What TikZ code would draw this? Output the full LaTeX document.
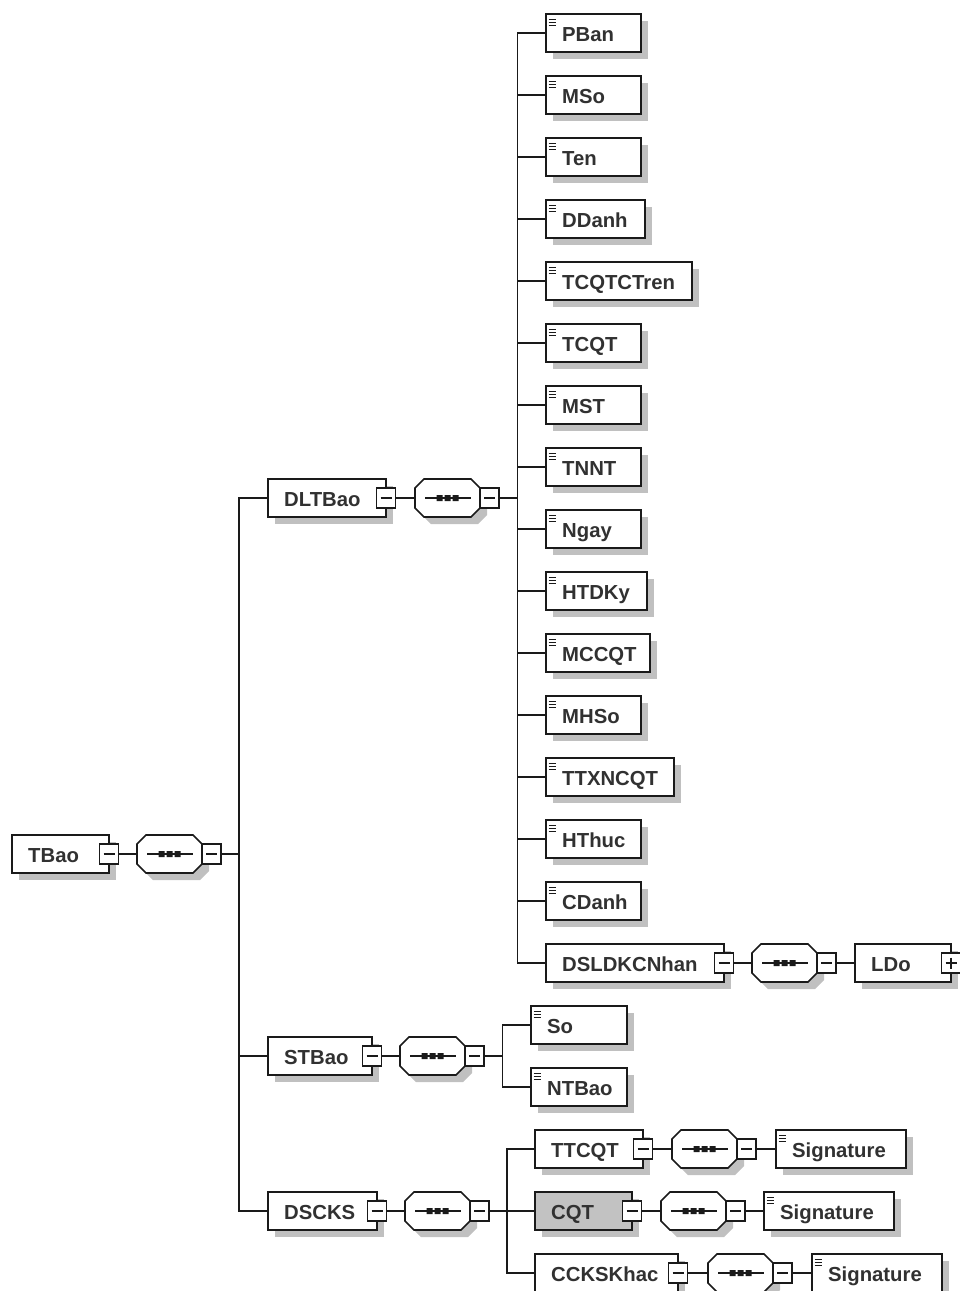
\documentclass[tikz,border=0pt]{standalone}
\usepackage{fontspec}
\newfontfamily\lblfont{Liberation Sans}
\definecolor{shadowc}{HTML}{C0C0C0}
\definecolor{linec}{HTML}{1A1A1A}
\definecolor{cqtfill}{HTML}{C2C2C2}
\tikzset{
 ebox/.style={draw=linec, line width=1.6pt, minimum height=38pt, inner sep=0pt, outer sep=0pt},
 outline/.style={draw=linec, line width=1.6pt},
 lbl/.style={font=\lblfont\bfseries\fontsize{20.3}{24}\selectfont, inner sep=0pt, text=linec!90},
 mbox/.style={draw=linec, fill=white, line width=1.4pt, minimum width=19pt, minimum height=20pt, inner sep=0pt, outer sep=0pt},
 conn/.style={draw=linec, line width=1.4pt},
 sgn/.style={draw=linec, line width=1.2pt},
 icon/.style={draw=linec, line width=1pt},
 seqbb/.style={minimum width=65pt, minimum height=38pt, inner sep=0pt, outer sep=0pt},
}
% box: [fill] name x y width text
\newcommand\xbox[6][white]{%
 \begin{scope}[shift={(#3,#4)}]
  \fill[shadowc] (7,-12) rectangle (#5+7,26);
  \node[ebox, fill=#1, minimum width=#5pt, anchor=west] (#2) at (0,0) {};
  \node[lbl, anchor=base west] (#2t) at (16,8) {#6};
 \end{scope}}
% minus box: name x y
\newcommand\mbx[3]{%
 \node[mbox] (#1) at (#2,#3) {};
 \draw[sgn] (#2-5.5,#3) -- (#2+5.5,#3);}
\newcommand\pbx[3]{%
 \mbx{#1}{#2}{#3}%
 \draw[sgn] (#2,#3-5.5) -- (#2,#3+5.5);}
% leaf: name x y width text
\newcommand\leaf[5]{%
 \xbox{#1}{#2}{#3}{#4}{#5}%
 \draw[icon] (#2+2.5,#3-14) -- ++(7,0) (#2+2.5,#3-11) -- ++(7,0) (#2+2.5,#3-8) -- ++(7,0);}
% sequence compositor: name xleft y
\newcommand\seqc[3]{%
 \begin{scope}[shift={(#2,#3)}]
  \fill[shadowc] (16,-12) -- (63,-12) -- (72,-3) -- (72,17) -- (63,26) -- (16,26) -- (7,17) -- (7,-3) -- cycle;
  \node[seqbb] (#1) at (32.5,0) {};
  \draw[outline, fill=white] (9,-19) -- (56,-19) -- (65,-10) -- (65,10) -- (56,19) -- (9,19) -- (0,10) -- (0,-10) -- cycle;
  \draw[sgn] (10,0) -- (56,0);
  \fill[linec] (21.5,-3) rectangle (27.5,3) (29.5,-3) rectangle (35.5,3) (37.5,-3) rectangle (43.5,3);
 \end{scope}
 \mbx{#1m}{#2+74.5}{#3}}

\begin{document}
\begin{tikzpicture}[x=1pt,y=-1pt]
\useasboundingbox (0,0) rectangle (960,1291);
\fill[white] (0,0) rectangle (960,1291);

% root
\xbox{tbao}{12}{854}{97}{TBao}
\mbx{tbaom}{109}{854}
\seqc{tbseq}{137}{854}

% DLTBao branch
\xbox{dlt}{268}{498}{118}{DLTBao}
\mbx{dltm}{386}{498}
\seqc{dltseq}{415}{498}

\leaf{pban}{546}{33}{95}{PBan}
\leaf{mso}{546}{95}{95}{MSo}
\leaf{ten}{546}{157}{95}{Ten}
\leaf{ddanh}{546}{219}{99}{DDanh}
\leaf{tcqtctren}{546}{281}{146}{TCQTCTren}
\leaf{tcqt}{546}{343}{95}{TCQT}
\leaf{mst}{546}{405}{95}{MST}
\leaf{tnnt}{546}{467}{95}{TNNT}
\leaf{ngay}{546}{529}{95}{Ngay}
\leaf{htdky}{546}{591}{101}{HTDKy}
\leaf{mccqt}{546}{653}{104}{MCCQT}
\leaf{mhso}{546}{715}{95}{MHSo}
\leaf{ttxncqt}{546}{777}{128}{TTXNCQT}
\leaf{hthuc}{546}{839}{95}{HThuc}
\leaf{cdanh}{546}{901}{95}{CDanh}
\xbox{dsl}{546}{963}{178}{DSLDKCNhan}
\mbx{dslm}{724}{963}
\seqc{dslseq}{752}{963}
\xbox{ldo}{855}{963}{96}{LDo}
\pbx{ldop}{951}{963}

% STBao branch
\xbox{stb}{268}{1056}{104}{STBao}
\mbx{stbm}{372}{1056}
\seqc{stbseq}{400}{1056}
\leaf{so}{531}{1025}{96}{So}
\leaf{ntbao}{531}{1087}{96}{NTBao}

% DSCKS branch
\xbox{dscks}{268}{1211}{109}{DSCKS}
\mbx{dscksm}{377}{1211}
\seqc{dscksseq}{405}{1211}

\xbox{ttcqt}{535}{1149}{108}{TTCQT}
\mbx{ttcqtm}{643}{1149}
\seqc{ttcqtseq}{672}{1149}
\leaf{sig1}{776}{1149}{130}{Signature}

\xbox[cqtfill]{cqt}{535}{1211}{97}{CQT}
\mbx{cqtm}{632}{1211}
\seqc{cqtseq}{661}{1211}
\leaf{sig2}{764}{1211}{130}{Signature}

\xbox{cck}{535}{1273}{143}{CCKSKhac}
\mbx{cckm}{678}{1273}
\seqc{cckseq}{708}{1273}
\leaf{sig3}{812}{1273}{130}{Signature}

% connectors
\draw[conn] (tbaom.east) -- (tbseq.west);
\foreach \c in {dlt,stb,dscks} \draw[conn] (tbseqm.east) -- ++(18,0) |- (\c.west);

\draw[conn] (dltm.east) -- (dltseq.west);
\foreach \c in {pban,mso,ten,ddanh,tcqtctren,tcqt,mst,tnnt,ngay,htdky,mccqt,mhso,ttxncqt,hthuc,cdanh,dsl}
  \draw[conn] (dltseqm.east) -- ++(18.5,0) |- (\c.west);
\draw[conn] (dslm.east) -- (dslseq.west);
\draw[conn] (dslseqm.east) -- (ldo.west);

\draw[conn] (stbm.east) -- (stbseq.west);
\foreach \c in {so,ntbao} \draw[conn] (stbseqm.east) -- ++(18.5,0) |- (\c.west);

\draw[conn] (dscksm.east) -- (dscksseq.west);
\foreach \c in {ttcqt,cqt,cck} \draw[conn] (dscksseqm.east) -- ++(18,0) |- (\c.west);

\draw[conn] (ttcqtm.east) -- (ttcqtseq.west);
\draw[conn] (ttcqtseqm.east) -- (sig1.west);
\draw[conn] (cqtm.east) -- (cqtseq.west);
\draw[conn] (cqtseqm.east) -- (sig2.west);
\draw[conn] (cckm.east) -- (cckseq.west);
\draw[conn] (cckseqm.east) -- (sig3.west);
\end{tikzpicture}
\end{document}
